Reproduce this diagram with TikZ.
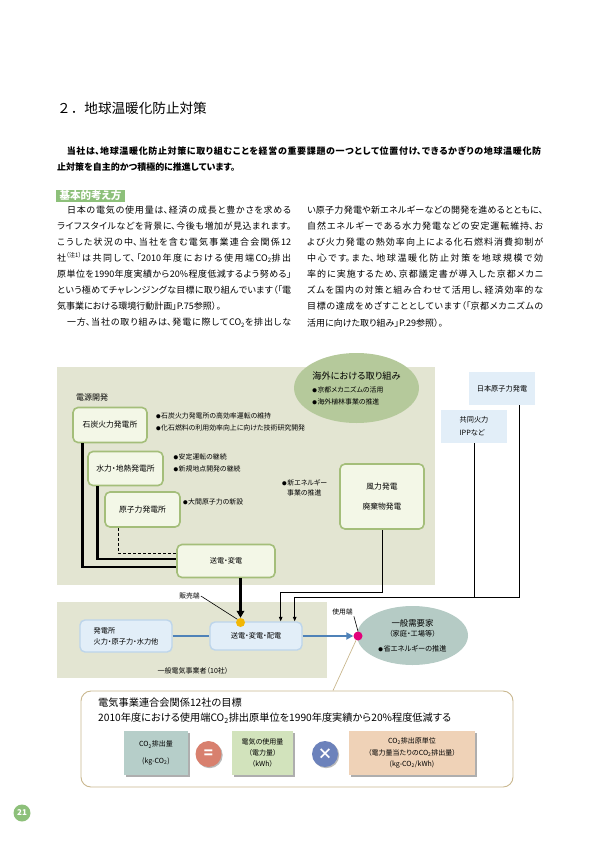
\documentclass[tikz,border=0pt]{standalone}
\usepackage{xcolor}
\usepackage{fontspec}
\setmainfont{Noto Sans CJK JP}[RawFeature=+palt]
\newfontfamily\titlefont{Noto Sans CJK JP}
\XeTeXlinebreaklocale "ja"
\XeTeXlinebreakskip=0pt plus 3pt
\tolerance=9999
\definecolor{leaf}{HTML}{8DC07A}
\definecolor{panel}{HTML}{E3E5D2}
\definecolor{srcline}{HTML}{A4BE7A}
\definecolor{srcfill}{HTML}{F3F7E7}
\definecolor{sage}{HTML}{B5C99B}
\definecolor{skyfill}{HTML}{E2EEF8}
\definecolor{skyline}{HTML}{BDD5EB}
\definecolor{steel}{HTML}{4F82B8}
\definecolor{mist}{HTML}{B5CBC5}
\definecolor{goalline}{HTML}{C9B78E}
\definecolor{amber}{HTML}{F2B705}
\definecolor{rose}{HTML}{E2007A}
\definecolor{co2fill}{HTML}{B6CEC9}
\definecolor{kwhfill}{HTML}{D2E3BC}
\definecolor{unitfill}{HTML}{EFD2B7}
\definecolor{eqfill}{HTML}{D8806E}
\definecolor{mulfill}{HTML}{6C82BB}
\usepackage{tikz}
\usetikzlibrary{shapes.geometric, arrows.meta, positioning, shadows}
\newcommand{\jsize}[1]{\fontsize{#1}{#1}\selectfont}
\newcommand{\bul}{{\fontsize{4.6}{4.6}\selectfont ●}\kern0.6pt}
\tikzstyle{bodytext} = [anchor=north west, inner sep=0pt, align=justify,
                        font=\fontsize{9}{16.1}\selectfont]
\tikzstyle{srcbox}   = [rectangle, rounded corners=5pt, draw=srcline, line width=1.6pt,
                        fill=srcfill, align=center, font=\jsize{7.8}]
\tikzstyle{skybox}   = [rectangle, rounded corners=5pt, draw=skyline, line width=1.4pt,
                        fill=skyfill, font=\fontsize{7.2}{11}\selectfont]
\tikzstyle{sidebox}  = [rectangle, fill=skyfill, font=\fontsize{7.2}{13}\selectfont]
\tikzstyle{note}     = [anchor=west, inner sep=0pt, align=left,
                        font=\fontsize{6.9}{11.5}\selectfont]
\tikzstyle{feed}     = [line width=2.6pt, black]
\tikzstyle{pipe}     = [line width=2.8pt, steel]
\tikzstyle{link}     = [line width=0.8pt, black]
\tikzstyle{arrowed}  = [-{Triangle[length=4.5pt,width=3.6pt]}]
\tikzstyle{factor}   = [rectangle, minimum height=44pt, align=center,
                        font=\fontsize{7}{11.3}\selectfont,
                        drop shadow={shadow xshift=1.6pt, shadow yshift=-1.6pt, fill=black!45, opacity=0.7}]
\tikzstyle{opcirc}   = [circle, minimum size=26pt, inner sep=0pt, text=white,
                        font=\bfseries\jsize{15},
                        drop shadow={shadow xshift=1.2pt, shadow yshift=-1.2pt, fill=black!45, opacity=0.6}]
\begin{document}
\begin{tikzpicture}[x=1pt, y=-1pt]
  \useasboundingbox (0,0) rectangle (596,842);

  % heading and text columns
  \node[anchor=west, inner sep=0pt, font=\titlefont\jsize{13.6}] (title) at (57,108) {２．地球温暖化防止対策};
  \node[bodytext, text width=484pt, font=\bfseries\fontsize{9}{16}\selectfont] (intro) at (57,146.5)
    {　当社は、地球温暖化防止対策に取り組むことを経営の重要課題の一つとして位置付け、できるかぎりの地球温暖化防\linebreak
     止対策を自主的かつ積極的に推進しています。};
  \node[fill=leaf, text=white, font=\bfseries\jsize{10.5}, minimum width=69pt,
        minimum height=12.5pt, inner sep=0pt] (basis) at (90.5,196) {基本的考え方};
  \node[bodytext, text width=234pt] (leftcol) at (57,205.5)
    {　日本の電気の使用量は、経済の成長と豊かさを求める\linebreak
     ライフスタイルなどを背景に、今後も増加が見込まれます。\linebreak
     こうした状況の中、当社を含む電気事業連合会関係12\linebreak
     社\textsuperscript{（注1）}は共同して、「2010年度における使用端CO\textsubscript{2}排出\linebreak
     原単位を1990年度実績から20\%程度低減するよう努める」\linebreak
     という極めてチャレンジングな目標に取り組んでいます（「電\linebreak
     気事業における環境行動計画」P.75参照）。\par
     　一方、当社の取り組みは、発電に際してCO\textsubscript{2}を排出しな{\parfillskip=0pt\par}};
  \node[bodytext, text width=236pt] (rightcol) at (307,205.5)
    {い原子力発電や新エネルギーなどの開発を進めるとともに、\linebreak
     自然エネルギーである水力発電などの安定運転維持、お\linebreak
     よび火力発電の熱効率向上による化石燃料消費抑制が\linebreak
     中心です。また、地球温暖化防止対策を地球規模で効\linebreak
     率的に実施するため、京都議定書が導入した京都メカニ\linebreak
     ズムを国内の対策と組み合わせて活用し、経済効率的な\linebreak
     目標の達成をめざすこととしています（「京都メカニズムの\linebreak
     活用に向けた取り組み」P.29参照）。};

  % panels
  \fill[panel] (57,367) rectangle (435,585);
  \fill[panel] (57,602) rectangle (327,678);

  \node[ellipse, fill=sage, minimum width=121pt, minimum height=70pt, inner sep=0pt,
        align=left, font=\fontsize{6.9}{12}\selectfont] (abroad) at (356.5,388)
    {{\jsize{9.2}海外における取り組み}\\[1pt]\bul 京都メカニズムの活用\\\bul 海外植林事業の推進};

  % power sources
  \node[anchor=west, inner sep=0pt, font=\jsize{8}] (srclbl) at (76,397) {電源開発};
  \node[srcbox, minimum width=74pt, minimum height=35pt] (coal)  at (110,425) {石炭火力発電所};
  \node[srcbox, minimum width=75pt, minimum height=34pt] (hydro) at (125.5,468.5) {水力・地熱発電所};
  \node[srcbox, minimum width=75pt, minimum height=35pt] (nuke)  at (142.5,509.5) {原子力発電所};
  \node[srcbox, minimum width=84pt, minimum height=65pt,
        font=\fontsize{7.8}{20}\selectfont] (wind) at (382,496.5) {風力発電\\廃棄物発電};
  \node[srcbox, minimum width=98pt, minimum height=33pt, font=\jsize{7.2}] (trans) at (226,561) {送電・変電};

  \node[note, right=8pt of coal.east, yshift=3pt] (coalnote)
    {\bul 石炭火力発電所の高効率運転の維持\\\bul 化石燃料の利用効率向上に向けた技術研究開発};
  \node[note, right=9.5pt of hydro.east, yshift=5.5pt] (hydronote) {\bul 安定運転の継続\\\bul 新規地点開発の継続};
  \node[note, right=2pt of nuke.east, yshift=7.5pt] (nukenote) {\bul 大間原子力の新設};
  \node[note, font=\fontsize{6.9}{10}\selectfont] (newnote) at (282,488) {\bul 新エネルギー\\\hspace*{5pt}事業の推進};

  \draw[feed] ([xshift=10pt]coal.south west) |- ([yshift=-6pt]trans.west);
  \draw[feed] ([xshift=10pt]hydro.south west) |- ([yshift=2pt]trans.west);
  \draw[link, dash pattern=on 3pt off 2pt] ([xshift=14pt]nuke.south west) |- ([yshift=8pt]trans.west);

  % utilities and customers
  \node[skybox, minimum width=92pt, minimum height=32pt, align=left] (plant) at (126,636) {発電所\\火力・原子力・水力他};
  \node[skybox, minimum width=92pt, minimum height=28pt, font=\jsize{7.2}] (dist) at (256,636) {送電・変電・配電};
  \node[font=\jsize{7}, inner sep=0pt] (utillbl) at (193,671) {一般電気事業者（10社）};
  \node[ellipse, fill=mist, minimum width=111pt, minimum height=59pt, inner sep=0pt,
        align=center, font=\fontsize{7.2}{10}\selectfont] (cust) at (412.5,635.5)
    {{\jsize{8.4}一般需要家}\\（家庭・工場等）\\[5pt]\bul 省エネルギーの推進};

  \node[circle, fill=amber, minimum size=9pt, inner sep=0pt] (sell) at (240.5,622.5) {};
  \node[font=\jsize{6.8}, inner sep=1pt] (selllbl) at (189.5,596) {販売端};
  \node[font=\jsize{6.8}, inner sep=1pt] (uselbl) at (342.5,612) {使用端};

  \draw[feed, -{Triangle[length=7pt,width=7.5pt]}] (sell |- trans.south) -- (sell.north);
  \draw[pipe] (plant) -- (dist);

  % other suppliers
  \node[sidebox, minimum width=66pt, minimum height=33pt] (jaea) at (502,388.5) {日本原子力発電};
  \node[sidebox, minimum width=66pt, minimum height=33pt, align=left] (ipp) at (474,426.5) {共同火力\\IPPなど};
  \draw[link] (ipp.south) -- ++(0,154);
  \draw[link, arrowed] ([xshift=17pt]jaea.south) -- ++(0,192) -| ([xshift=-8pt]dist.north east);
  \draw[link, arrowed] (wind.south) -- ++(0,63) -| ([xshift=-22pt]dist.north east);

  % target box
  \node[rectangle, rounded corners=10pt, draw=goalline, line width=0.9pt, fill=white,
        minimum width=432pt, minimum height=96pt] (goal) at (297,739) {};
  \node[circle, fill=rose, minimum size=9pt, inner sep=0pt] (use) at (358,636) {};
  \draw[goalline, line width=0.7pt] (use) -- ([xshift=36pt]goal.north);
  \draw[pipe, -{Triangle[length=7pt,width=7pt]}] (dist) -- (use);
  \draw[link, line width=0.6pt] (selllbl.east) -- (sell.north west);
  \draw[link, line width=0.6pt] (uselbl.south east) -- (use.north);

  \node[anchor=west, inner sep=0pt, font=\jsize{10.2}] (goalhead) at (98,703) {電気事業連合会関係12社の目標};
  \node[anchor=west, inner sep=0pt, font=\jsize{10.2}] (goaltext) at (98,718)
    {2010年度における使用端CO\textsubscript{2}排出原単位を1990年度実績から20\%程度低減する};
  \node[factor, fill=co2fill, minimum width=64pt] (co2) at (156,753) {CO\textsubscript{2}排出量\\[5pt](kg-CO\textsubscript{2})};
  \node[opcirc, fill=eqfill] (eq) at (208.5,754) {=};
  \node[factor, fill=kwhfill, minimum width=61pt] (kwh) at (262.5,753) {電気の使用量\\（電力量）\\（kWh）};
  \node[opcirc, fill=mulfill] (mul) at (325,754) {×};
  \node[factor, fill=unitfill, minimum width=126pt] (unit) at (412,753)
    {CO\textsubscript{2}排出原単位\\（電力量当たりのCO\textsubscript{2}排出量）\\(kg-CO\textsubscript{2}/kWh)};

  \node[circle, fill=leaf, minimum size=17pt, inner sep=0pt, text=white,
        font=\bfseries\jsize{8}] (pagenum) at (22,813) {21};
\end{tikzpicture}
\end{document}
